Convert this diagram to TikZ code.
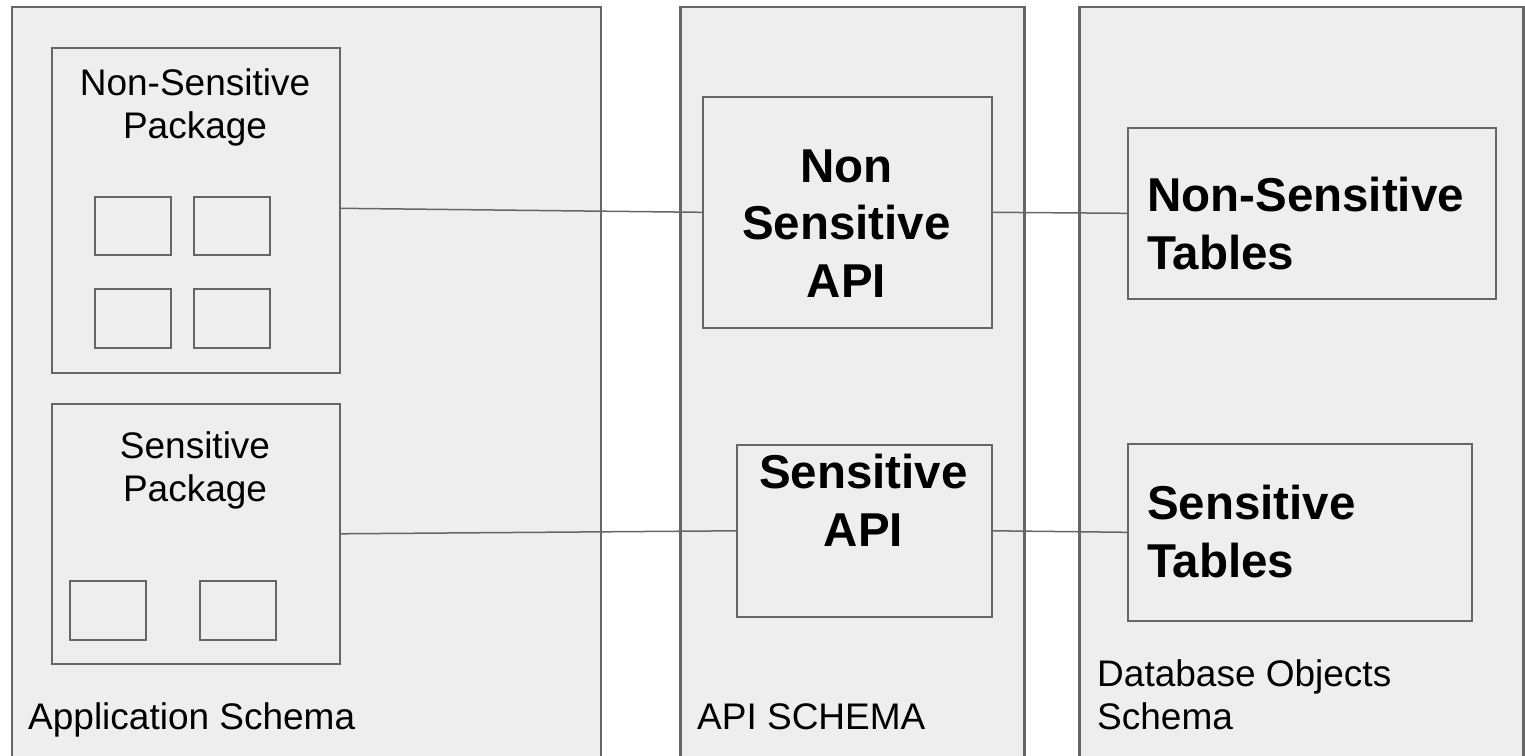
\documentclass[tikz,border=0pt]{standalone}
\usepackage{fontspec}
\setmainfont{Liberation Sans}
\definecolor{panel}{HTML}{EEEEEE}
\definecolor{edge}{HTML}{666666}
\begin{document}
\begin{tikzpicture}[x=1pt,y=-1pt,
  column/.style={draw=edge, fill=panel, line width=2.5pt, anchor=north west, inner sep=0pt},
  box/.style={draw=edge, line width=1.6pt, anchor=north west, inner sep=0pt},
  link/.style={draw=edge, line width=1.5pt},
  plain/.style={font=\fontsize{37}{43}\selectfont, inner sep=0pt},
  heavy/.style={font=\bfseries\fontsize{47.5}{57.5}\selectfont, inner sep=0pt},
]
\useasboundingbox (0,0) rectangle (1525,755);
\clip (0,0) rectangle (1525,755);

% schema columns (open at the bottom)
\node[column, minimum width=589, minimum height=790] (appcol) at (10.5,5.5) {};
\node[column, minimum width=344, minimum height=790] (apicol) at (679,5.5) {};
\node[column, minimum width=444, minimum height=790] (dbcol) at (1078,5.5) {};

% application packages
\node[box, minimum width=288, minimum height=325] (nsp) at (51,47) {};
\node[box, minimum width=76, minimum height=58] (nsp1) at (94,196) {};
\node[box, minimum width=76, minimum height=58] (nsp2) at (193,196) {};
\node[box, minimum width=76, minimum height=59] (nsp3) at (94,288) {};
\node[box, minimum width=76, minimum height=59] (nsp4) at (193,288) {};

\node[box, minimum width=288, minimum height=260] (sp) at (51,403) {};
\node[box, minimum width=76, minimum height=59] (sp1) at (69,580) {};
\node[box, minimum width=76, minimum height=59] (sp2) at (199,580) {};

% API layer
\node[box, minimum width=289, minimum height=231] (nsapi) at (702,96) {};
\node[box, minimum width=255, minimum height=172] (sapi) at (736,444) {};

% database objects
\node[box, minimum width=368, minimum height=171] (nstab) at (1127,127) {};
\node[box, minimum width=344, minimum height=177] (stab) at (1127,443) {};

% connectors
\draw[link] ([yshift=2pt]nsp.east) -- (nsapi.west);
\draw[link] (nsapi.east) -- (nstab.west);
\draw[link] (sp.east) -- (sapi.west);
\draw[link] (sapi.east) -- (stab.west);

% texts (anchored at the baseline of their last line)
\node[plain, align=center, anchor=base] (nsptxt) at (195,138) {Non-Sensitive\\Package};
\node[plain, align=center, anchor=base] (sptxt) at (195,501) {Sensitive\\Package};
\node[heavy, align=center, anchor=base] (nsapitxt) at (846.5,297) {Non\\Sensitive\\API};
\node[heavy, align=center, anchor=base] (sapitxt) at (863.5,546) {Sensitive\\API};
\node[heavy, align=left, anchor=base west] (nstabtxt) at (1147,269) {Non-Sensitive\\Tables};
\node[heavy, align=left, anchor=base west] (stabtxt) at (1147,577) {Sensitive\\Tables};

\node[plain, anchor=base west] (applbl) at (28,729) {Application Schema};
\node[plain, anchor=base west] (apilbl) at (697,729) {API SCHEMA};
\node[plain, align=left, anchor=base west] (dblbl) at (1097,729) {Database Objects\\Schema};
\end{tikzpicture}
\end{document}
